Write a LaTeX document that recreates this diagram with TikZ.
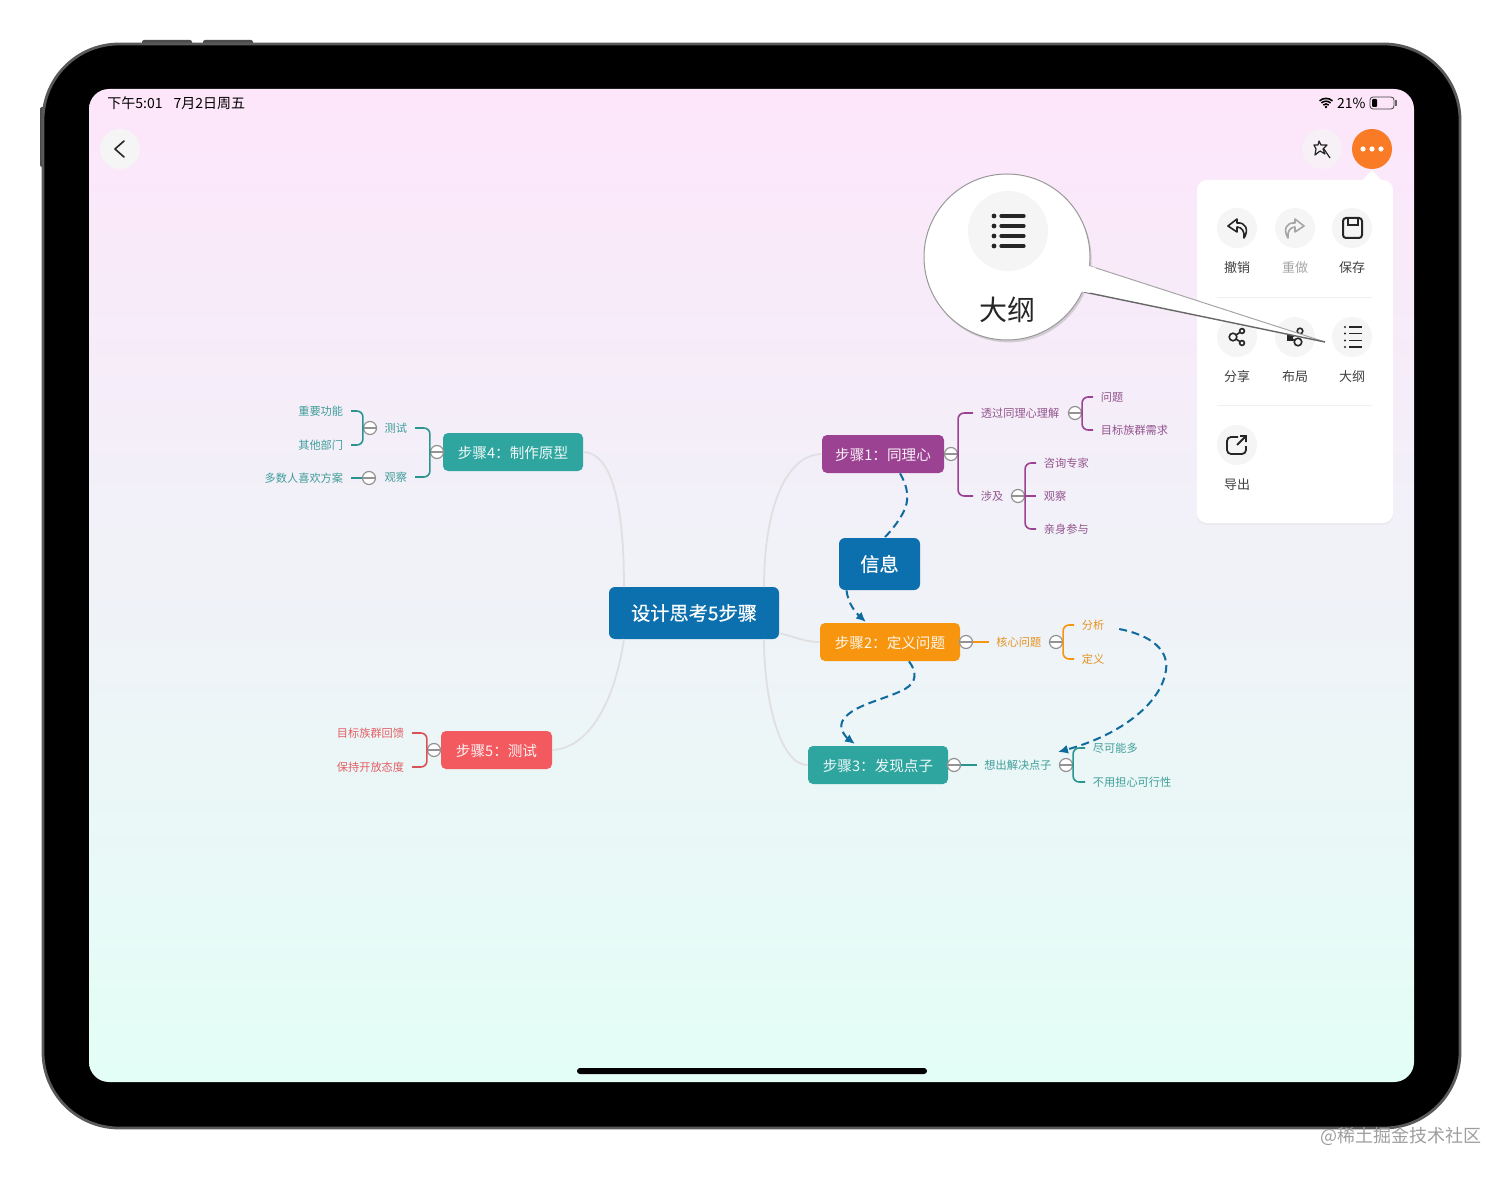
\documentclass[tikz,border=0pt]{standalone}
\usepackage{fontspec}
\setmainfont{Noto Sans CJK SC}
\newfontfamily\rootfont[FakeBold=0.6]{Noto Sans CJK SC}
\usetikzlibrary{arrows.meta,shadows}
\definecolor{rootblue}{HTML}{0B70AD}
\definecolor{stepviolet}{HTML}{9C4292}
\definecolor{steporange}{HTML}{F7950F}
\definecolor{stepteal}{HTML}{2FA59F}
\definecolor{stepred}{HTML}{F25A60}
\definecolor{relblue}{HTML}{0F6A9E}
\definecolor{iconbg}{HTML}{F5F5F5}
\definecolor{moreorange}{HTML}{F97B26}
\definecolor{screentop}{HTML}{FDE6FA}
\definecolor{screenmid}{HTML}{F3F3F8}
\definecolor{screenend}{HTML}{E3FEF6}
\tikzset{
    rootbox/.style={draw=none,fill=rootblue,text=white,rounded corners=3pt,font=\fontsize{9.6}{12}\rootfont},
    stepbox/.style={draw=none,fill=#1,text=white!92!#1,rounded corners=2.5pt,font=\fontsize{7.3}{9}\selectfont,minimum height=19pt,inner sep=0pt,text height=7pt,text depth=0.4pt},
    leaf/.style={text=#1,font=\fontsize{5.6}{7}\selectfont,inner xsep=3.75pt,inner ysep=1pt},
    foldmark/.style={circle,draw=gray!85,fill=white,line width=0.6pt,minimum size=6.5pt,inner sep=0pt,
        path picture={\draw[gray!85,line width=0.6pt] (path picture bounding box.west) -- (path picture bounding box.east);}},
    bracket/.style={#1,line width=0.8pt,rounded corners=3pt},
    branch/.style={draw=black!12,line width=0.9pt},
    relation/.style={relblue,line width=1pt,dash pattern=on 4pt off 2.4pt},
    iconbtn/.style={circle,fill=iconbg,minimum size=20pt,inner sep=0pt},
    menulabel/.style={text=#1,font=\fontsize{6.5}{8}\selectfont},
    listicon/.pic={
        \foreach \y in {-15,-5,5,15} {
            \fill[black!85] (-14,\y) circle (1.2pt);
            \draw[black!85,line width=1.6pt,line cap=round] (-7,\y) -- (16,\y);
        }
    },
    smalllist/.pic={
        \foreach \y in {-10,-3.5,3.5,10} {
            \fill[black!85] (-7,\y) circle (0.6pt);
            \draw[black!85,line width=0.8pt] (-3,\y) -- (10,\y);
        }
    },
    backicon/.pic={
        \draw[pic actions,line join=round] (0,-9) -- (-9,-2) -- (0,4) -- (0,-1) .. controls (5,-1) and (8,4) .. (7,10)
            .. controls (12,2) and (9,-6) .. (0,-5) -- cycle;
    }
}
\begin{document}
\begin{tikzpicture}[x=0.5pt,y=-0.5pt]
    \useasboundingbox (0,0) rectangle (1512,1177);
    % device
    \foreach \x/\y in {142/192,203/253} {
        \fill[black!70,rounded corners=1pt] (\x,40) rectangle (\y,46);
    }
    \fill[black!70,rounded corners=1pt] (40,107) rectangle (46,167);
    \filldraw[black,draw=black!65,line width=1.4pt,rounded corners=38pt] (43,44) rectangle (1460,1128);
    \shade[top color=screentop,middle color=screenmid,bottom color=screenend,rounded corners=10pt] (89,89) rectangle (1414,1082);
    \fill[black,rounded corners=1.5pt] (577,1068) rectangle (927,1074);
    % status bar
    \node[anchor=west,inner sep=0pt,font=\fontsize{7}{9}\selectfont] (clock) at (107,103) {下午5:01\hspace{5.5pt}7月2日周五};
    \node[anchor=east,inner sep=0pt,font=\fontsize{7}{9}\selectfont] (charge) at (1366,103) {21\%};
    \foreach \r in {2,3.4,4.8} {
        \draw[black,line width=0.8pt] (1326,108) ++(48:\r pt) arc[start angle=48,end angle=132,radius=\r pt];
    }
    \fill[black] (1326,107) circle (0.7pt);
    \draw[black!75,line width=0.4pt,rounded corners=1.5pt] (1370,97) rectangle (1394,109);
    \fill[black,rounded corners=0.5pt] (1372,99) rectangle (1377,107);
    \fill[black!60] (1395,100) rectangle (1396.5,106);
    % top buttons
    \node[iconbtn] (backbtn) at (120,149) {};
    \draw[black!85,line width=0.8pt,line cap=round,line join=round] (124,141) -- (115,149) -- (124,157);
    \node[iconbtn,fill=iconbg!70!screentop] (wandbtn) at (1322,149) {};
    \draw[black!85,line width=0.6pt,line join=round] (1319,141) -- (1321,145) -- (1327,145) -- (1323,149) -- (1325,154) -- (1320,151) -- (1315,155) -- (1316,149) -- (1314,145) -- (1318,145) -- cycle;
    \draw[black!85,line width=0.6pt] (1324,149) -- (1330,158);
    % menu
    \fill[white] (1372,170) -- (1383,182) -- (1361,182) -- cycle;
    \fill[white,rounded corners=5pt,drop shadow={shadow xshift=0pt,shadow yshift=-1pt,opacity=.07}] (1197,180) rectangle (1393,523);
    \node[circle,fill=moreorange,minimum size=20pt,inner sep=0pt] (morebtn) at (1372,149) {};
    \foreach \x in {1363,1372,1381} {
        \fill[white] (\x,149) circle (1.3pt);
    }
    \foreach \y in {297,405} {
        \draw[black!6,line width=0.5pt] (1217,\y) -- (1372,\y);
    }
    \foreach \n/\x/\y/\t/\c in {undo/1237/228/撤销/black!75,redo/1295/228/重做/black!35,save/1352/228/保存/black!75,share/1237/337/分享/black!75,layout/1295/337/布局/black!75,outline/1352/337/大纲/black!75,export/1237/445/导出/black!75} {
        \node[iconbtn] (\n btn) at (\x,\y) {};
        \node[menulabel=\c] (\n text) at (\x,\y+39.5) {\t};
    }
    \pic[black!85,line width=0.8pt] at (undobtn) {backicon};
    \pic[black!35,xscale=-1,line width=0.8pt] at (redobtn) {backicon};
    \draw[black!85,line width=1pt,rounded corners=1.5pt] (1343,218) rectangle (1362,238);
    \draw[black!85,line width=0.7pt] (1348,218) -- (1348,225) -- (1358,225) -- (1358,218);
    \draw[black!85,line width=0.8pt] (1233,337) -- (1242,331) (1233,337) -- (1242,343);
    \filldraw[draw=black!85,fill=iconbg,line width=0.8pt] (1233,337) circle (1.9pt) (1242,331) circle (1.2pt) (1242,343) circle (1.2pt);
    \draw[black!85,line width=0.8pt] (1290,338) -- (1300,332) (1290,338) -- (1298,342);
    \fill[black!85] (1287,335) rectangle (1293,341);
    \filldraw[draw=black!85,fill=iconbg,line width=0.8pt] (1300,331) circle (1.4pt) (1298,342) circle (1.9pt);
    \pic at (outlinebtn) {smalllist};
    \draw[black!85,line width=0.9pt,rounded corners=2pt] (1238,437) -- (1227,437) -- (1227,454) -- (1246,454) -- (1246,446);
    \draw[black!85,line width=0.9pt] (1237,445) -- (1246,436) (1240,436) -- (1246,436) -- (1246,442);
    % magnifier
    \fill[white] (1090,266) -- (1325,342) -- (1084,292) -- cycle;
    \draw[black!35,line width=0.5pt] (1090,266) -- (1325,342);
    \draw[black!60,line width=0.7pt] (1084,292) -- (1325,342);
    \filldraw[white,draw=black!40,line width=0.5pt,drop shadow={shadow xshift=0.8pt,shadow yshift=-1.2pt,opacity=.3}] (1007,257) circle (41.5pt);
    \fill[white] (1082,264) -- (1096,268) -- (1090,293) -- (1078,291) -- cycle;
    \node[iconbtn,minimum size=40pt] (zoombtn) at (1008,231) {};
    \pic at (zoombtn) {listicon};
    \node[text=black!85,font=\fontsize{14}{16}\selectfont] (zoomtext) at (1007,310) {大纲};
    % main boxes
    \node[rootbox,minimum width=85pt,minimum height=26pt] (root) at (694,613) {设计思考5步骤};
    \node[rootbox,minimum width=40.5pt,minimum height=26pt] (info) at (879.5,564) {信息};
    \node[stepbox=stepviolet,minimum width=61pt] (step1) at (883,454) {步骤1：同理心};
    \node[stepbox=steporange,minimum width=70pt] (step2) at (890,642) {步骤2：定义问题};
    \node[stepbox=stepteal,minimum width=70pt] (step3) at (878,765) {步骤3：发现点子};
    \node[stepbox=stepteal,minimum width=70pt] (step4) at (513,452) {步骤4：制作原型};
    \node[stepbox=stepred,minimum width=55.5pt] (step5) at (496.5,750) {步骤5：测试};
    % branches from the root
    \coordinate (rootnw) at (624,587);
    \coordinate (rootne) at (764,587);
    \coordinate (rootsw) at (624,639);
    \coordinate (rootse) at (764,639);
    \coordinate (rootee) at (779,633);
    \draw[branch] (rootnw) .. controls (624,505) and (612,453) .. (step4.east);
    \draw[branch] (rootsw) .. controls (615,700) and (590,748) .. (step5.east);
    \draw[branch] (rootne) .. controls (764,510) and (785,455) .. (step1.west);
    \draw[branch] (rootee) .. controls (795,637) and (805,642) .. (step2.west);
    \draw[branch] (rootse) .. controls (764,700) and (780,765) .. (step3.west);
    % step 1
    \node[foldmark] (fold1) at (951,454) {};
    \node[leaf=stepviolet!70!gray,anchor=west] (s1a) at (973,413) {透过同理心理解};
    \node[leaf=stepviolet!70!gray,anchor=west] (s1b) at (973,496) {涉及};
    \node[foldmark] (fold1a) at (1075,413) {};
    \node[foldmark] (fold1b) at (1018,496) {};
    \node[leaf=stepviolet!70!gray,anchor=west] (s1a1) at (1093,397) {问题};
    \node[leaf=stepviolet!70!gray,anchor=west] (s1a2) at (1093,430) {目标族群需求};
    \node[leaf=stepviolet!70!gray,anchor=west] (s1b1) at (1036,463) {咨询专家};
    \node[leaf=stepviolet!70!gray,anchor=west] (s1b2) at (1036,496) {观察};
    \node[leaf=stepviolet!70!gray,anchor=west] (s1b3) at (1036,529) {亲身参与};
    \draw[bracket=stepviolet] (s1a.west) -| (fold1.east) |- (s1b.west);
    \draw[bracket=stepviolet] (s1a1.west) -| (fold1a.east) |- (s1a2.west);
    \draw[bracket=stepviolet] (s1b1.west) -| (fold1b.east) |- (s1b3.west);
    \draw[bracket=stepviolet] (fold1b.east) -- (s1b2.west);
    % step 2
    \node[foldmark] (fold2) at (966,642) {};
    \node[leaf=steporange!85!gray,anchor=west] (s2a) at (988.5,642) {核心问题};
    \node[foldmark] (fold2a) at (1056,642) {};
    \node[leaf=steporange!85!gray,anchor=west] (s2a1) at (1074,625) {分析};
    \node[leaf=steporange!85!gray,anchor=west] (s2a2) at (1074,659) {定义};
    \draw[bracket=steporange] (fold2.east) -- (s2a.west);
    \draw[bracket=steporange] (s2a1.west) -| (fold2a.east) |- (s2a2.west);
    % step 3
    \node[foldmark] (fold3) at (954,765) {};
    \node[leaf=stepteal!80!gray,anchor=west] (s3a) at (976.5,765) {想出解决点子};
    \node[foldmark] (fold3a) at (1066,765) {};
    \node[leaf=stepteal!80!gray,anchor=west] (s3a1) at (1085,748) {尽可能多};
    \node[leaf=stepteal!80!gray,anchor=west] (s3a2) at (1085,782) {不用担心可行性};
    \draw[bracket=stepteal!90!black] (fold3.east) -- (s3a.west);
    \draw[bracket=stepteal!90!black] (s3a1.west) -| (fold3a.east) |- (s3a2.west);
    % step 4
    \node[foldmark] (fold4) at (437,452) {};
    \node[leaf=stepteal!80!gray,anchor=east] (s4a) at (415,428) {测试};
    \node[leaf=stepteal!80!gray,anchor=east] (s4b) at (415,477) {观察};
    \node[foldmark] (fold4a) at (370,428) {};
    \node[foldmark] (fold4b) at (369,478) {};
    \node[leaf=stepteal!80!gray,anchor=east] (s4a1) at (351,411) {重要功能};
    \node[leaf=stepteal!80!gray,anchor=east] (s4a2) at (351,445) {其他部门};
    \node[leaf=stepteal!80!gray,anchor=east] (s4b1) at (351,478) {多数人喜欢方案};
    \draw[bracket=stepteal!90!black] (s4a.east) -| (fold4.west) |- (s4b.east);
    \draw[bracket=stepteal!90!black] (s4a1.east) -| (fold4a.west) |- (s4a2.east);
    \draw[bracket=stepteal!90!black] (s4b1.east) -- (fold4b.west);
    % step 5
    \node[foldmark] (fold5) at (434,750) {};
    \node[leaf=stepred!85!gray,anchor=east] (s5a) at (412,733) {目标族群回馈};
    \node[leaf=stepred!85!gray,anchor=east] (s5b) at (412,767) {保持开放态度};
    \draw[bracket=stepred!90!black] (s5a.east) -| (fold5.west) |- (s5b.east);
    % relations
    \draw[relation] ([xshift=8.5pt]step1.south) .. controls (908,487) and (910,500) .. (903,513) .. controls (898,522) and (892,530) .. (885,537);
    \draw[relation,-{Latex[length=5pt,width=4.5pt]}] ([xshift=-16.5pt]info.south) .. controls (848,603) and (855,612) .. (866,622);
    \draw[relation,-{Latex[length=5pt,width=4.5pt]}] ([xshift=9.5pt]step2.south) .. controls (917,672) and (917,682) .. (905,689) .. controls (885,700) and (850,705) .. (842,722) .. controls (839,730) and (847,738) .. (855,744);
    \draw[relation,-{Latex[length=5pt,width=4.5pt]}] ([xshift=3.5pt,yshift=-2pt]s2a1.east) .. controls (1150,635) and (1172,650) .. (1165,675) .. controls (1158,705) and (1120,735) .. (1058,752);
    % watermark
    \node[anchor=east,inner sep=0pt,text=black!38,font=\fontsize{9}{10}\selectfont] (mark) at (1482,1136) {@稀土掘金技术社区};
\end{tikzpicture}
\end{document}
